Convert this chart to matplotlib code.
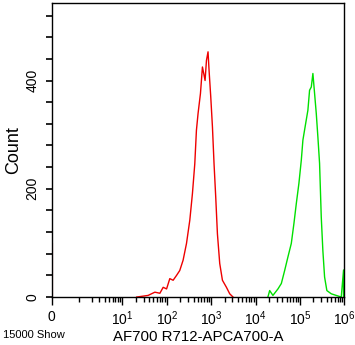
import matplotlib
matplotlib.use("Agg")
import matplotlib.pyplot as plt

plt.rcParams['font.family'] = ['Liberation Sans', 'DejaVu Sans']
plt.rcParams['mathtext.fontset'] = 'custom'
plt.rcParams['mathtext.rm'] = 'Liberation Sans'
plt.rcParams['mathtext.default'] = 'regular'

# red histogram (unstained / control), intensity vs count
red_x = [21, 38, 54, 70, 83, 99, 117, 139, 166, 196, 233, 278, 330, 378,
         427, 465, 506, 573, 635, 679, 728, 782, 849, 895, 977, 1067, 1159,
         1264, 1380, 1556, 1790, 2202, 2611, 3097]
red_y = [0, 3, 9, 7, 18, 15, 34, 31, 40, 49, 68, 99, 142, 191,
         246, 308, 339, 376, 425, 413, 400, 437, 453, 419, 370, 314, 246,
         185, 117, 62, 31, 18, 6, 0]
red_zero_count = 100   # events piled on the 0 channel

# green histogram (stained sample)
green_x = [18900, 20700, 24500, 31800, 37900, 45000, 53300, 63500, 72800,
           82400, 94200, 106700, 115900, 133300, 150000, 163700, 179000,
           194500, 212300, 231700, 251700, 274800, 299900, 325900, 356400,
           401000, 503500, 651500, 845200, 952400, 952400]
green_y = [0, 12, 3, 15, 25, 49, 74, 99, 136, 173, 210, 253, 290, 320, 345,
           382, 388, 413, 376, 339, 296, 247, 148, 86, 37, 12, 6, 3, 0, 50, 0]

x_major = [0, 10, 100, 1000, 10000, 100000, 1000000]
x_major_labels = ['0', '$10^1$', '$10^2$', '$10^3$', '$10^4$', '$10^5$', '$10^6$']
y_major = [0, 200, 400]

fig = plt.figure(figsize=(3.55, 3.45), dpi=100)
ax = fig.add_axes([0.1456, 0.139, 0.8248, 0.852])

ax.plot(red_x, red_y, color='#ee0000', lw=1.0)
ax.vlines(0, 0, red_zero_count, color='#ee0000', lw=1.5)
ax.plot(green_x, green_y, color='#00e000', lw=1.0)

ax.set_xscale('asinh', linear_width=0.514)
ax.set_xlim(0, 1000000)
ax.set_ylim(0, 543)

ax.set_xticks(x_major)
ax.set_xticklabels(x_major_labels)
minor = [m * 10 ** k for k in range(0, 6) for m in range(1, 10) if not (m == 1 and k > 0)]
ax.set_xticks(minor, minor=True)
ax.set_yticks(y_major)
ax.set_yticklabels([str(v) for v in y_major], rotation=90, va='center')
ax.set_yticks(list(range(0, 541, 40)), minor=True)

ax.tick_params(axis='x', which='major', length=6, width=1, labelsize=10, pad=3)
ax.tick_params(axis='x', which='minor', length=3.5, width=1)
ax.tick_params(axis='y', which='major', length=4.5, width=1.2, labelsize=10, pad=4.5)
ax.tick_params(axis='y', which='minor', length=4.5, width=1.2)
for s in ax.spines.values():
    s.set_linewidth(1.0)

ax.set_xlabel('AF700 R712-APCA700-A', fontsize=10.8, labelpad=1)
ax.set_ylabel('Count', fontsize=13, labelpad=2.5)
fig.text(0.008, 0.028, '15000 Show', fontsize=8, ha='left', va='center')

fig.savefig('out.png', dpi=100)
